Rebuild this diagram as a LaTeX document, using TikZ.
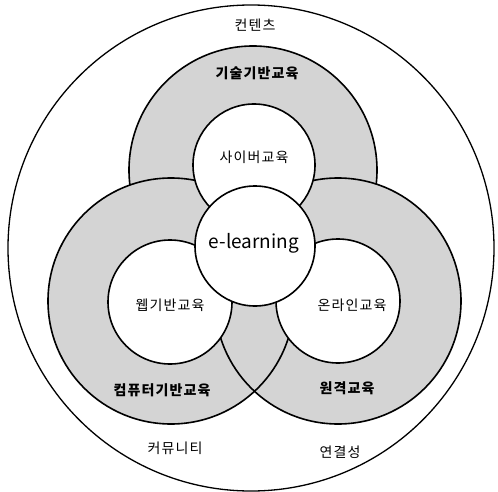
\documentclass[tikz,border=0pt]{standalone}
\usepackage{fontspec}
\setmainfont{Noto Sans CJK KR}
\newfontfamily\korsp[LetterSpace=8]{Noto Sans CJK KR}
\begin{document}
\begin{tikzpicture}[x=1pt,y=-1pt,
  ln/.style={line width=1.6pt},
  greyfill/.style={fill=black!17},
  whitefill/.style={fill=white},
  lbl/.style={font=\korsp\fontsize{14}{15}\selectfont, inner sep=0pt},
  blbl/.style={font=\korsp\fontsize{14}{15}\selectfont\bfseries, inner sep=0pt}]
\useasboundingbox (0,0) rectangle (498,492);
\fill[white] (0,0) rectangle (498,492);
% outer circle
\draw[line width=1.3pt] (251,248) circle[radius=243pt];
% grey rings
\fill[greyfill] (253,170) circle[radius=124pt];
\draw[ln] (253,170) circle[radius=124pt];
\fill[greyfill] (171,301) circle[radius=123pt];
\fill[greyfill] (338,301) circle[radius=123pt];
\draw[ln] (171,301) circle[radius=123pt];
\draw[ln] (338,301) circle[radius=123pt];
% white inner circles
\filldraw[ln,whitefill] (254,165) circle[radius=61pt];
\filldraw[ln,whitefill] (170,302) circle[radius=62pt];
\filldraw[ln,whitefill] (338,301) circle[radius=62pt];
\filldraw[ln,whitefill] (255,246) circle[radius=60pt];
% labels
\node[lbl] (contents) at (255,25) {컨텐츠};
\node[blbl] (tech) at (257,73) {기술기반교육};
\node[lbl] (cyber) at (254,157) {사이버교육};
\node[font=\fontsize{19}{21}\selectfont, inner sep=0pt] (elearn) at (254,243) {e-learning};
\node[lbl] (web) at (170,305) {웹기반교육};
\node[lbl] (online) at (352,305) {온라인교육};
\node[blbl] (cbt) at (162,390) {컴퓨터기반교육};
\node[blbl] (remote) at (347,388) {원격교육};
\node[lbl] (community) at (175,448) {커뮤니티};
\node[lbl] (connect) at (340,452) {연결성};
\end{tikzpicture}
\end{document}
